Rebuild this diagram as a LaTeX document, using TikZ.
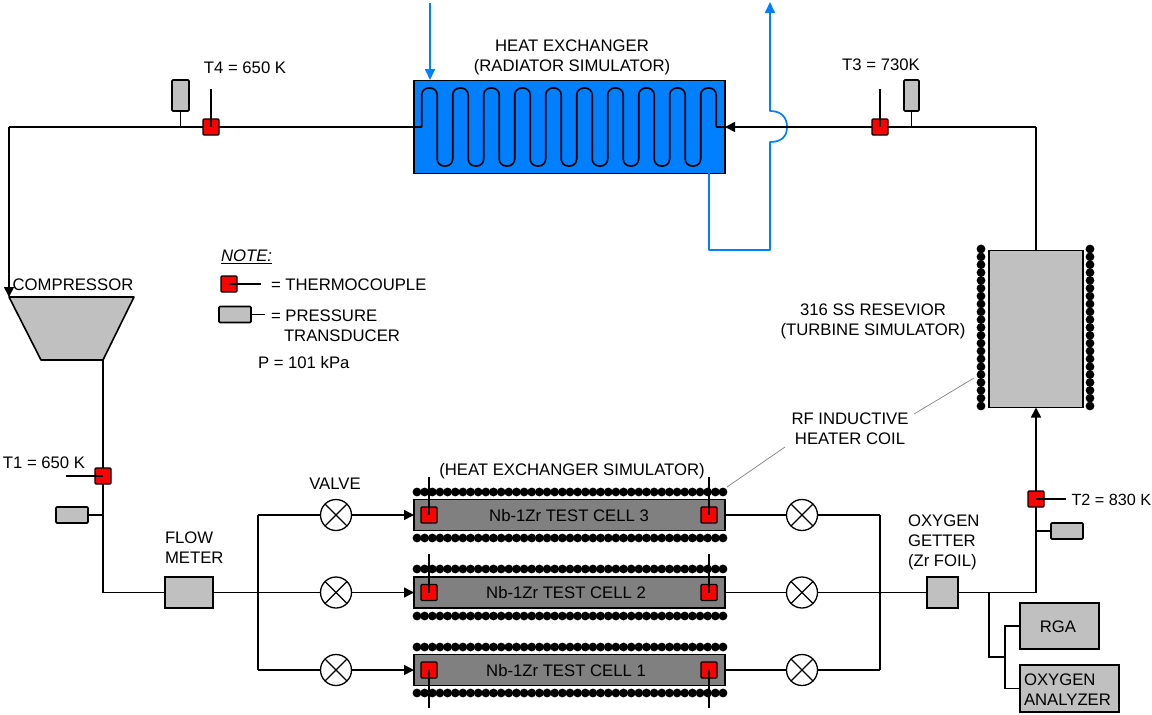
\documentclass[tikz,border=0pt]{standalone}
\usepackage{fontspec}
\setmainfont{Liberation Sans}
\usepackage{tikz}
\usetikzlibrary{arrows.meta}
\definecolor{hxblue}{RGB}{0,128,255}
\definecolor{boxgray}{RGB}{192,192,192}
\definecolor{cellgray}{RGB}{128,128,128}
\tikzset{
	pipe/.style={line width=1.6pt,black},
	flowto/.style={pipe,-{Triangle[length=10pt,width=10pt]}},
	coolant/.style={line width=1.7pt,hxblue,line join=round},
	coolantto/.style={coolant,-{Triangle[length=11pt,width=10pt]}},
	leader/.style={line width=0.7pt,gray},
	txt/.style={font=\fontsize{16.7}{20}\selectfont,inner sep=0pt,outer sep=0pt,align=center},
	txtleft/.style={txt,align=left,anchor=west},
	gbox/.style={draw,line width=1.6pt,fill=boxgray,inner sep=0pt,outer sep=0pt},
	tcouple/.style={draw,line width=1.3pt,fill=red,rounded corners=1pt,minimum size=16pt,inner sep=0pt,outer sep=0pt},
	ptrans/.style={gbox,rounded corners=1pt},
	testcell/.style={draw,line width=1.7pt,fill=cellgray,minimum width=311pt,minimum height=31pt,inner sep=0pt,outer sep=0pt},
	valvesym/.style={circle,draw,line width=1.3pt,fill=white,minimum size=31pt,inner sep=0pt,outer sep=0pt,
		path picture={\draw[line width=1.1pt] (path picture bounding box.north west) -- (path picture bounding box.south east)
			(path picture bounding box.north east) -- (path picture bounding box.south west);}},
}
\begin{document}
\begin{tikzpicture}[x=1pt,y=-1pt]
	\useasboundingbox (0,0) rectangle (1152,715);
	% Radiator side
	\node[draw,line width=1.7pt,fill=hxblue,minimum width=311pt,minimum height=93pt,inner sep=0pt,outer sep=0pt] (hx) at (569.5,127) {};
	\node[txt] (hxtxt) at (572,57) {HEAT EXCHANGER\\(RADIATOR SIMULATOR)};
	\coordinate (coilin) at (421.7,127);
	\coordinate (coilout) at (716.2,127);
	\draw[pipe] (hx.west) -- (coilin);
	\foreach \x in {421.7,452.7,...,670}
	\draw[pipe,rounded corners=7pt] (\x,127) -- (\x,88) -- (\x+15.5,88) -- (\x+15.5,166) -- (\x+31,166) -- (\x+31,127);
	\draw[pipe,rounded corners=7pt] (700.7,127) -- (700.7,88) -- (716.2,88) -- (coilout);
	\draw[pipe] (coilout) -- (hx.east);
	% Coolant loop
	\coordinate (wtrin) at (430,3);
	\coordinate (wtrintip) at (430,80);
	\coordinate (wtrout) at (709,173);
	\coordinate (wtrlow) at (709,250);
	\coordinate (wtrup) at (770,250);
	\coordinate (hopa) at (770,142);
	\coordinate (hopb) at (770,111);
	\coordinate (wtrend) at (770,2);
	\draw[coolantto] (wtrin) -- (wtrintip);
	\draw[coolantto] (wtrout) -- (wtrlow) -- (wtrup) -- (hopa) .. controls (782,142) and (787,136) .. (787,127) .. controls (787,118) and (782,111) .. (hopb) -- (wtrend);
	% Top line
	\node[tcouple] (t4) at (211,127) {};
	\node[tcouple] (t3) at (880,127) {};
	\node[ptrans,minimum width=17pt,minimum height=31pt] (p4) at (180.5,95.5) {};
	\node[ptrans,minimum width=15pt,minimum height=31pt] (p3) at (911.5,95.5) {};
	\coordinate (t4top) at (211,89);
	\coordinate (t3top) at (880,89);
	\coordinate (cornerl) at (9,127);
	\coordinate (cornerr) at (1036,127);
	\draw[pipe] (hx.west) -- (t4);
	\draw[pipe] (t4) -- (cornerl);
	\draw[flowto] (t3) -- (hx.east);
	\draw[pipe] (cornerr) -- (t3);
	\draw[pipe] (t4.center) -- (t4top);
	\draw[pipe] (t3.center) -- (t3top);
	\draw[pipe] (p4.south) -- (p4.south |- t4);
	\draw[pipe] (p3.south) -- (p3.south |- t3);
	\node[txt] (t4txt) at (245,68) {T4 = 650 K};
	\node[txt] (t3txt) at (881,65) {T3 = 730K};
	% Compressor
	\coordinate (compa) at (9,297);
	\coordinate (compb) at (134,297);
	\coordinate (compc) at (103,360);
	\coordinate (compd) at (41,360);
	\draw[gbox,line join=round] (compa) -- (compb) -- (compc) -- (compd) -- cycle;
	\draw[flowto] (cornerl) -- (compa);
	\node[txt] (comptxt) at (73,285) {COMPRESSOR};
	% Compressor to flow meter
	\node[tcouple] (t1) at (103,476) {};
	\node[ptrans,minimum width=32pt,minimum height=16pt] (p1) at (72,515) {};
	\node[gbox,minimum width=48pt,minimum height=31pt] (flow) at (189,592.5) {};
	\coordinate (t1end) at (66,476);
	\coordinate (cornerf) at (103,592.5);
	\draw[pipe] (compc) -- (t1);
	\draw[pipe] (t1) -- (cornerf) -- (flow);
	\draw[pipe] (t1.center) -- (t1end);
	\draw[pipe] (p1.east) -- (p1.east -| t1);
	\node[txt] (t1txt) at (44,463) {T1 = 650 K};
	\node[txtleft] (flowtxt) at (165,547.5) {FLOW\\METER};
	\node[txt] (valvetxt) at (335,484) {VALVE};
	% Test cells with valves
	\foreach \n/\yy/\tipy/\tx in {3/515/477/569,2/592.5/554/566,1/670/708/566}{
		\node[valvesym] (vl\n) at (336,\yy) {};
		\node[valvesym] (vr\n) at (802,\yy) {};
		\node[testcell] (cell\n) at (569.5,\yy) {};
		\node[tcouple] (ta\n) at (429,\yy) {};
		\node[tcouple] (tb\n) at (709,\yy) {};
		\node[txt] (celltxt\n) at (\tx,\yy+0.5) {Nb-1Zr TEST CELL \n};
		\coordinate (bl\n) at (258,\yy);
		\coordinate (br\n) at (880,\yy);
		\draw[pipe] (bl\n) -- (vl\n);
		\draw[flowto] (vl\n) -- (cell\n.west);
		\draw[pipe] (cell\n.east) -- (vr\n);
		\draw[pipe] (vr\n) -- (br\n);
		\draw[pipe] (ta\n.center) -- (429,\tipy);
		\draw[pipe] (tb\n.center) -- (709,\tipy);
	}
	\draw[pipe] (bl3) -- (bl1);
	\draw[pipe] (br3) -- (br1);
	\draw[pipe] (flow) -- (bl2);
	\node[txt] (simtxt) at (572,471) {(HEAT EXCHANGER SIMULATOR)};
	% RF coil, cells
	\foreach \row in {492,538,569,616,647,693}
	\foreach \k in {0,...,40}
	\fill (417+7.65*\k,\row) circle (4.4);
	% Reservoir with coil
	\node[gbox,minimum width=94pt,minimum height=157pt] (res) at (1036,329) {};
	\foreach \col in {981,1090}
	\foreach \k in {0,...,20}
	\fill (\col,249+7.85*\k) circle (4.4);
	\draw[pipe] (cornerr) -- (res.north);
	\node[txt] (restxt) at (873,321) {316 SS RESEVIOR\\(TURBINE SIMULATOR)};
	\node[txt] (rftxt) at (850,429) {RF INDUCTIVE\\HEATER COIL};
	\coordinate (leada) at (974,378);
	\coordinate (leadb) at (914,414);
	\coordinate (leadc) at (785,447);
	\coordinate (leadd) at (727,487);
	\draw[leader] (leada) -- (leadb);
	\draw[leader] (leadc) -- (leadd);
	% Getter to reservoir
	\node[gbox,minimum width=31pt,minimum height=31pt] (getter) at (942.5,592.5) {};
	\node[tcouple] (t2) at (1036,499) {};
	\node[ptrans,minimum width=32pt,minimum height=16pt] (p2) at (1067,531) {};
	\coordinate (cornerg) at (1036,592.5);
	\coordinate (t2end) at (1066,499);
	\draw[pipe] (br2) -- (getter);
	\draw[pipe] (getter) -- (cornerg) -- (t2);
	\draw[flowto] (t2) -- (res.south);
	\draw[pipe] (t2.center) -- (t2end);
	\draw[pipe] (p2.west) -- (p2.west -| t2);
	\node[txtleft,font=\fontsize{16.2}{20}\selectfont] (t2txt) at (1071.5,499.5) {T2 = 830 K};
	\node[txtleft] (gettxt) at (908,542.5) {OXYGEN\\GETTER\\(Zr FOIL)};
	% Gas analysis
	\node[gbox,minimum width=79pt,minimum height=46pt] (rga) at (1059.5,626) {};
	\node[gbox,minimum width=99pt,minimum height=47pt] (oxan) at (1069.5,688.5) {};
	\node[txt] (rgatxt) at (1058,626.5) {RGA};
	\node[txtleft] (oxtxt) at (1024,690) {OXYGEN\\ANALYZER};
	\coordinate (taponly) at (989,592.5);
	\coordinate (tapdown) at (989,657);
	\coordinate (tapmid) at (1005,657);
	\coordinate (tapa) at (1005,626);
	\coordinate (tapb) at (1005,688.5);
	\draw[pipe] (taponly) -- (tapdown) -- (tapmid);
	\draw[pipe] (rga.west) -- (tapa) -- (tapb) -- (oxan.west);
	% Note
	\node[txtleft,font=\fontsize{16.7}{20}\selectfont\itshape] (notetxt) at (221,257) {\underline{NOTE:}};
	\node[tcouple] (tkey) at (229,284) {};
	\coordinate (tkeyend) at (261,284);
	\draw[pipe] (tkey.center) -- (tkeyend);
	\node[txtleft] (tkeytxt) at (271,285) {= THERMOCOUPLE};
	\node[ptrans,minimum width=32pt,minimum height=16pt] (pkey) at (235,314.5) {};
	\coordinate (pkeyend) at (265,314.5);
	\draw[pipe] (pkey.east) -- (pkeyend);
	\node[txtleft] (pkeytxt) at (271,316) {= PRESSURE};
	\node[txtleft] (pkeytxtb) at (284,336) {TRANSDUCER};
	\node[txtleft] (ptxt) at (258,363) {P = 101 kPa};
\end{tikzpicture}
\end{document}
